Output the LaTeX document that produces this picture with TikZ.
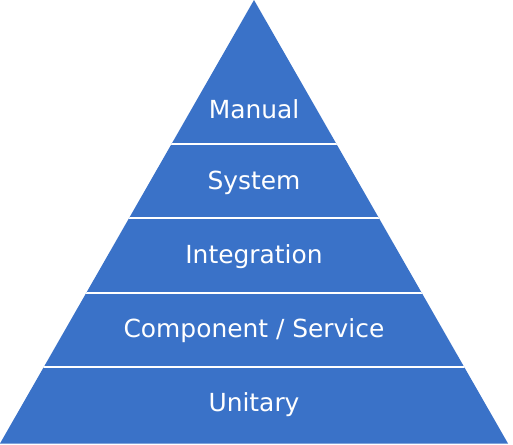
\documentclass[tikz,border=0pt]{standalone}
\usepackage{fontspec}
\setmainfont{DejaVu Sans}
\definecolor{pyr}{RGB}{58,114,200}
\begin{document}
\begin{tikzpicture}[x=1bp,y=-1bp,
  lbl/.style={text=white,font=\fontsize{24.9bp}{28bp}\selectfont,inner sep=0pt,anchor=center},
  sep/.style={draw=white,line width=2bp}]
\useasboundingbox (0,0) rectangle (513,445);
\coordinate (apex) at (254,0);
\coordinate (bl) at (0,443.5);
\coordinate (br) at (508,443.5);
\fill[pyr] (apex) -- (br) -- (bl) -- cycle;
\begin{scope}
\clip (apex) -- (br) -- (bl) -- cycle;
\foreach \y in {144.5,218.5,292.5,366.5}{
  \draw[sep] (0,\y) -- (513,\y);
}
\end{scope}
\node[lbl] (manual) at (254,109) {Manual};
\node[lbl] (system) at (254,182.5) {System};
\node[lbl] (integ) at (254,256.5) {Integration};
\node[lbl] (comp) at (254,330.5) {Component / Service};
\node[lbl] (unit) at (254,404.5) {Unitary};
\end{tikzpicture}
\end{document}
